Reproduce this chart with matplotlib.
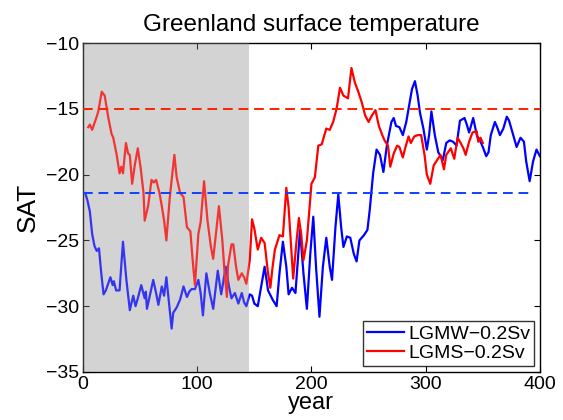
import matplotlib
matplotlib.use("Agg")
import matplotlib.pyplot as plt
import numpy as np

plt.rcParams['font.family'] = ['Liberation Sans', 'DejaVu Sans']

# LGMW-0.2Sv (blue)
year_w = [2, 4, 6, 8, 10, 12, 14, 16, 18, 20, 22, 24, 26, 27, 29, 32, 35, 38, 41, 44,
          46, 48, 51, 54, 55, 56, 59, 61.5, 64, 66, 69, 71, 73, 75, 76, 77.6, 79, 82, 85, 88,
          91, 93, 95, 98, 101, 103, 105, 108, 111, 114, 118, 121, 125, 128, 130, 133, 136, 139, 141, 143,
          146, 148, 150, 153, 156, 159, 162, 166, 169.5, 172, 175, 178, 180, 183, 186, 190, 193, 196, 199, 201.6,
          204, 207, 210, 213, 216, 218, 221, 223.5, 226, 228, 231, 234, 237, 239.5, 242, 246, 249, 251, 254, 257,
          260, 263, 266, 270, 272, 274, 277, 280, 283, 286, 288, 290.6, 293, 295, 298, 301, 303, 305, 308, 311,
          315, 318, 321, 324, 327, 330, 334, 336, 338, 341.6, 345, 347, 350, 353, 355, 357, 360.6, 363, 365, 368,
          371, 373, 376, 379.6, 383, 386, 388, 391, 394, 397, 400]
sat_w = [-21.4, -22.0, -22.8, -24.5, -25.4, -25.8, -25.6, -27.5, -29.1, -28.8, -28.3, -27.8, -28.4, -28.1, -28.8, -28.8, -25.1, -28.0, -30.3, -29.2,
         -30.0, -29.4, -28.4, -29.4, -28.9, -30.2, -29.0, -28.0, -29.0, -29.9, -28.5, -29.2, -27.8, -29.5, -30.4, -31.7, -30.5, -30.1, -29.5, -28.5,
         -29.3, -28.9, -28.7, -28.7, -28.0, -29.0, -30.7, -27.5, -29.0, -30.2, -27.3, -29.1, -27.0, -28.6, -29.4, -29.0, -29.8, -29.0, -29.7, -30.0,
         -29.1, -29.2, -29.8, -30.0, -28.5, -27.0, -28.8, -29.5, -30.0, -27.5, -25.1, -27.0, -29.1, -28.6, -29.0, -24.2, -27.5, -30.2, -26.0, -23.2,
         -27.0, -30.8, -27.0, -24.8, -27.0, -28.0, -24.0, -21.5, -24.0, -25.5, -24.7, -24.8, -26.0, -26.6, -25.0, -24.6, -24.2, -22.7, -19.9, -18.1,
         -18.5, -19.8, -17.8, -16.0, -15.7, -16.3, -16.4, -17.0, -16.0, -14.5, -13.5, -12.9, -14.0, -15.3, -16.5, -18.1, -17.0, -15.2, -17.0, -18.3,
         -18.9, -17.6, -17.4, -17.5, -17.8, -15.9, -15.7, -16.2, -16.8, -15.7, -17.1, -17.3, -17.9, -18.6, -18.3, -17.0, -16.0, -16.5, -17.0, -16.5,
         -15.6, -15.9, -16.8, -17.9, -17.2, -17.5, -19.0, -20.5, -19.0, -18.1, -18.6]

# LGMS-0.2Sv (red)
year_s = [4.6, 6, 8, 10, 12, 13.4, 16.4, 19, 22, 25, 26.5, 29.5, 32, 33.5, 35, 37.6, 39.5, 41, 43, 45.5,
          48, 50.5, 53, 54, 57, 60, 62, 64, 67, 69, 71, 73, 76, 80, 82, 85, 88, 91, 94, 96,
          98, 101, 103, 106, 109, 112, 114, 117, 119, 122, 124, 126, 127, 130, 131.6, 134, 136, 139, 141, 143,
          146, 148, 150, 153, 156, 159, 162, 164, 166, 168, 172, 175, 178, 180, 184, 187, 189, 191, 193, 196,
          200, 203, 206, 209, 213, 216, 219, 222, 225, 228, 232, 235, 238, 241, 244, 247, 250, 253, 256, 259,
          262, 264, 267, 269, 272, 275, 277, 280, 282, 285, 287, 290, 293, 296, 299, 301, 304, 307, 310, 313,
          316, 318, 322, 325, 328, 330, 333, 335, 338, 341, 344.6, 346, 348, 350]
sat_s = [-16.4, -16.2, -16.6, -16.1, -15.6, -15.2, -13.7, -14.0, -15.6, -16.9, -17.2, -18.5, -19.9, -19.4, -19.9, -17.6, -18.4, -18.5, -20.7, -19.2,
         -18.0, -19.5, -21.4, -23.5, -22.4, -20.4, -20.6, -20.4, -21.4, -22.4, -23.5, -25.0, -21.7, -18.5, -20.2, -21.4, -21.7, -24.0, -24.3, -26.5,
         -28.4, -24.5, -23.6, -20.5, -23.5, -25.5, -26.4, -24.0, -22.4, -25.0, -27.5, -29.3, -26.9, -25.3, -25.3, -27.0, -28.0, -27.5, -27.8, -28.3,
         -26.5, -23.4, -24.1, -25.7, -24.8, -25.2, -27.5, -28.6, -27.0, -25.7, -24.6, -24.7, -21.0, -22.5, -27.9, -25.0, -23.3, -24.5, -26.5, -25.0,
         -20.7, -20.2, -17.8, -17.7, -16.5, -16.6, -16.0, -15.0, -13.4, -14.0, -14.2, -11.9, -13.0, -13.7, -14.5, -15.5, -16.0, -15.5, -15.1, -16.3,
         -17.0, -17.4, -17.8, -19.4, -18.4, -17.8, -17.9, -18.7, -18.0, -17.1, -17.6, -17.1, -17.0, -17.0, -18.5, -20.0, -20.7, -19.3, -18.9, -18.5,
         -19.6, -18.5, -18.0, -18.8, -17.2, -17.5, -18.0, -18.5, -17.5, -16.8, -16.7, -17.5, -17.2, -17.6]

# reference levels (dashed)
ref_w, ref_w_end = -21.4, 392
ref_s, ref_s_end = -15.0, 400
spinup_end = 145

fig = plt.figure(figsize=(5.63, 4.2), dpi=100)
ax = fig.add_axes([0.1474, 0.1143, 0.8116, 0.7833])

ax.axvspan(0, spinup_end, color='#d3d3d3', lw=0, zorder=0)
ax.plot(year_w, sat_w, color='#0000ff', lw=1.6, label='LGMW\u22120.2Sv', zorder=2)
ax.plot(year_s, sat_s, color='#ff0000', lw=1.6, label='LGMS\u22120.2Sv', zorder=2)
# veil over the spin-up part of the lines
ax.axvspan(0, spinup_end, color='#d3d3d3', alpha=0.25, lw=0, zorder=3)
ax.plot([0, ref_s_end], [ref_s, ref_s], color='#ff2000', lw=1.4, ls=(0, (5, 3)), zorder=4)
ax.plot([0, ref_w_end], [ref_w, ref_w], color='#1040ff', lw=1.4, ls=(0, (5, 3)), zorder=4)

ax.set_xlim(0, 400)
ax.set_ylim(-35, -10)
ax.set_xticks([0, 100, 200, 300, 400])
ax.set_yticks([-35, -30, -25, -20, -15, -10])
ax.set_yticklabels(['\u221235', '\u221230', '\u221225', '\u221220', '\u221215', '\u221210'])
ax.tick_params(direction='in', top=True, right=True, labelsize=14, length=4, width=0.8, pad=3)
for s in ax.spines.values():
    s.set_linewidth(1.0)

ax.set_title('Greenland surface temperature', fontsize=17.5, pad=9)
ax.set_xlabel('year', fontsize=17, labelpad=-1)
ax.set_ylabel('SAT', fontsize=19, labelpad=4)

leg = ax.legend(loc='lower right', fontsize=14, frameon=True, fancybox=False,
                borderaxespad=0.3, handlelength=1.9, handletextpad=0.2,
                borderpad=0.2, labelspacing=0.1)
leg.get_frame().set_edgecolor('black')
leg.get_frame().set_linewidth(1.0)

fig.savefig('out.png', dpi=100)
